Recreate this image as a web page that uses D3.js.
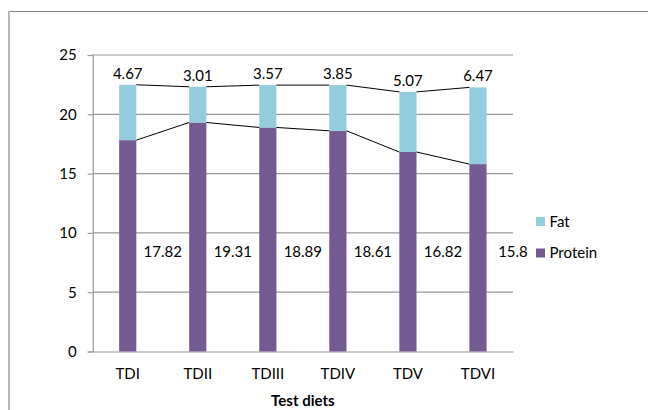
<!DOCTYPE html>
<html lang="en">
<head>
<meta charset="utf-8">
<title>Test diets</title>
<script src="https://cdn.jsdelivr.net/npm/d3@7"></script>
<style>
    body { margin: 0; background: #fff; }
    text { font-family: Lato, "Open Sans", sans-serif; fill: #000; }
</style>
</head>
<body>
<div id="chart"></div>
<script>
const diets = ["TDI", "TDII", "TDIII", "TDIV", "TDV", "TDVI"];
const protein = [17.82, 19.31, 18.89, 18.61, 16.82, 15.8];
const fat = [4.67, 3.01, 3.57, 3.85, 5.07, 6.47];
const yTicks = [0, 5, 10, 15, 20, 25];
const seriesNames = ["Fat", "Protein"];

const colors = {Protein: "#735a91", Fat: "#93cddd"};

const W = 648, H = 410;
const svg = d3.select("#chart").append("svg")
    .attr("width", W)
    .attr("height", H);

// outer frame
svg.append("line").attr("x1", 8).attr("x2", W).attr("y1", 11.5).attr("y2", 11.5)
    .attr("stroke", "#858585").attr("stroke-width", 1);
svg.append("line").attr("x1", 9).attr("x2", 9).attr("y1", 11).attr("y2", H)
    .attr("stroke", "#b8b8b8").attr("stroke-width", 2);

const x = d3.scaleBand()
    .domain(diets)
    .range([92.7, 513])
    .padding(0);
const y = d3.scaleLinear()
    .domain([0, 25])
    .range([351.5, 55]);

const bw = x.bandwidth() * 0.245;
const cx = d => x(d) + x.bandwidth() / 2;

// gridlines
svg.append("g")
    .selectAll("line")
    .data(yTicks.filter(t => t > 0))
    .join("line")
    .attr("x1", 92.7).attr("x2", 513)
    .attr("y1", d => y(d)).attr("y2", d => y(d))
    .attr("stroke", "#999").attr("stroke-width", 1.2);

// y axis
const yAxis = svg.append("g")
    .attr("transform", "translate(92.7,0)")
    .call(d3.axisLeft(y).tickValues(yTicks).tickSize(5).tickPadding(11));
yAxis.selectAll("line").attr("stroke", "#999").attr("stroke-width", 1.2);
yAxis.select(".domain").attr("stroke", "#999").attr("stroke-width", 1.2);
yAxis.selectAll("text").attr("font-size", 15).attr("font-family", "Lato, sans-serif").attr("fill", "#000");

// x axis
const xAxis = svg.append("g")
    .attr("transform", `translate(0,${y(0)})`)
    .call(d3.axisBottom(x).tickSize(0).tickPadding(17));
xAxis.select(".domain").attr("stroke", "#999").attr("stroke-width", 1.2);
xAxis.selectAll("text").attr("font-size", 15).attr("font-family", "Lato, sans-serif").attr("fill", "#000");

const rows = diets.map((d, i) => ({diet: d, protein: protein[i], fat: fat[i], total: protein[i] + fat[i]}));

// bars
svg.append("g").selectAll("rect")
    .data(rows)
    .join("rect")
    .attr("x", d => cx(d.diet) - bw / 2)
    .attr("width", bw)
    .attr("y", d => y(d.protein))
    .attr("height", d => y(0) - y(d.protein))
    .attr("fill", colors.Protein);

svg.append("g").selectAll("rect")
    .data(rows)
    .join("rect")
    .attr("x", d => cx(d.diet) - bw / 2)
    .attr("width", bw)
    .attr("y", d => y(d.total))
    .attr("height", d => y(d.protein) - y(d.total))
    .attr("fill", colors.Fat);

// series lines
const links = d3.pairs(rows);
["protein", "total"].forEach(key => {
    svg.append("g").selectAll("line")
        .data(links)
        .join("line")
        .attr("x1", d => cx(d[0].diet) + bw / 2)
        .attr("y1", d => y(d[0][key]))
        .attr("x2", d => cx(d[1].diet) - bw / 2)
        .attr("y2", d => y(d[1][key]))
        .attr("stroke", "#000").attr("stroke-width", 1);
});

// fat labels
svg.append("g").selectAll("text")
    .data(rows)
    .join("text")
    .attr("x", d => cx(d.diet))
    .attr("y", d => y(d.total) - 6)
    .attr("text-anchor", "middle")
    .attr("font-size", 15)
    .text(d => d.fat);

// protein labels
svg.append("g").selectAll("text")
    .data(rows)
    .join("text")
    .attr("x", d => x(d.diet) + x.bandwidth())
    .attr("y", y(8.4))
    .attr("dy", "0.35em")
    .attr("text-anchor", "middle")
    .attr("font-size", 15)
    .text(d => d.protein);

// axis title
svg.append("text")
    .attr("x", (92.7 + 513) / 2)
    .attr("y", 406)
    .attr("text-anchor", "middle")
    .attr("font-size", 15)
    .attr("font-weight", "bold")
    .text("Test diets");

// legend
const legend = svg.append("g").attr("transform", "translate(536,217)");
seriesNames.forEach((name, i) => {
    const g = legend.append("g").attr("transform", `translate(0,${i * 31.5})`);
    g.append("rect").attr("width", 9).attr("height", 9).attr("fill", colors[name]);
    g.append("text").attr("x", 13.5).attr("y", 9.5).attr("font-size", 15).text(name);
});
</script>
</body>
</html>
